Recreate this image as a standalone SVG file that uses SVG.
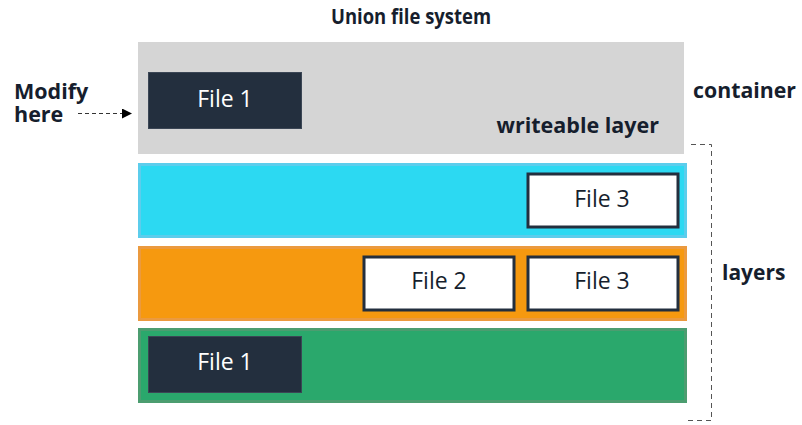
<svg xmlns="http://www.w3.org/2000/svg" width="802" height="425" viewBox="0 0 802 425">
<style>
.t{font-family:"Open Sans","Noto Sans",sans-serif;}
.b{font-weight:bold;fill:#161e2d;}
.f{font-size:23px;text-anchor:middle;}
.dark{fill:#232f3e;stroke:#3b4655;stroke-width:1;}
.white{fill:#ffffff;stroke:#232f3e;stroke-width:3;}
</style>
<defs>
<marker id="ah" markerWidth="10" markerHeight="10" refX="9" refY="5" orient="auto" markerUnits="userSpaceOnUse">
<path d="M0,0 L10,5 L0,10 z" fill="#000"/>
</marker>
</defs>
<rect width="802" height="425" fill="#ffffff"/>
<text class="t b" x="331" y="24" font-size="20.5" textLength="160" lengthAdjust="spacingAndGlyphs">Union file system</text>
<g id="writeable-layer">
<rect x="138" y="42" width="546" height="112" fill="#d5d5d5"/>
<text class="t b" x="659" y="133" font-size="21.5" text-anchor="end">writeable layer</text>
</g>
<g id="w-file1">
<rect class="dark" x="148.5" y="72.5" width="153" height="56"/>
<text class="t f" x="225" y="107" fill="#ffffff">File 1</text>
</g>
<g id="cyan-layer">
<rect x="139.5" y="164.5" width="546" height="72" fill="#2cd9f2" stroke="#5ccdec" stroke-width="3"/>
</g>
<g id="c-file3">
<rect class="white" x="528" y="174" width="150" height="53"/>
<text class="t f" x="602" y="207" fill="#161e2d">File 3</text>
</g>
<g id="orange-layer">
<rect x="139.5" y="247.5" width="546" height="72" fill="#f6990f" stroke="#eb9a3f" stroke-width="3"/>
</g>
<g id="o-file2">
<rect class="white" x="364" y="257" width="150" height="53"/>
<text class="t f" x="439" y="289" fill="#161e2d">File 2</text>
</g>
<g id="o-file3">
<rect class="white" x="528" y="257" width="150" height="53"/>
<text class="t f" x="602" y="289" fill="#161e2d">File 3</text>
</g>
<g id="green-layer">
<rect x="139.5" y="329.5" width="546" height="72" fill="#2aa86c" stroke="#4c9d70" stroke-width="3"/>
</g>
<g id="g-file1">
<rect class="dark" x="148.5" y="336.5" width="153" height="56"/>
<text class="t f" x="225" y="370" fill="#ffffff">File 1</text>
</g>
<g id="modify-label">
<text class="t b" x="14" y="99" font-size="21.5">Modify</text>
<text class="t b" x="14" y="122" font-size="21.5">here</text>
</g>
<text class="t b" x="693" y="98" font-size="21.3">container</text>
<text class="t b" x="722" y="280" font-size="21">layers</text>
<g id="connectors">
<line x1="78" y1="113.5" x2="131" y2="113.5" stroke="#333" stroke-width="1" stroke-dasharray="4,3" marker-end="url(#ah)"/>
<path d="M691,144.5 H711.5 V420.5 H688" fill="none" stroke="#555" stroke-width="1" stroke-dasharray="5,4"/>
</g>
</svg>
